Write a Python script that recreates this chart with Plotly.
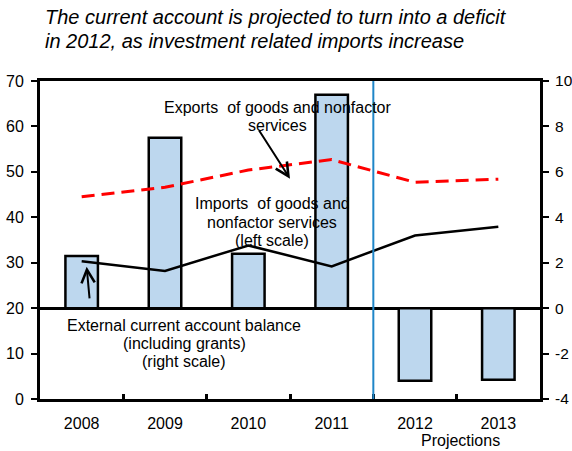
import plotly.graph_objects as go

# Data
years = ["2008", "2009", "2010", "2011", "2012", "2013"]
current_account = [2.3, 7.5, 2.4, 9.4, -3.2, -3.15]   # right scale, % of GDP
exports = [44.5, 46.6, 50.4, 52.7, 47.7, 48.4]        # left scale
imports = [30.3, 28.2, 33.8, 29.2, 36.0, 37.9]        # left scale
right_ticks = [-4, -2, 0, 2, 4, 6, 8, 10]
right_ticktext = ["-4", "-2", "0", "2", "4", "6", "8", "10"]

FONT = "Arial, Liberation Sans, sans-serif"

# Plot-area geometry (pixels) used to place free text in paper coordinates
W_FIG, H_FIG = 572, 451
M_L, M_R, M_T, M_B = 40, 32, 81, 52
PW = W_FIG - M_L - M_R
PH = H_FIG - M_T - M_B


def px(x):
    return (x - M_L) / PW


def py(y):
    return 1 - (y - M_T) / PH


fig = go.Figure()

# Current account balance bars (right scale)
fig.add_trace(go.Bar(
    x=years, y=current_account, yaxis="y",
    marker=dict(color="#BDD7EE", line=dict(color="black", width=2.5)),
    width=0.39, showlegend=False,
))

# Exports / imports lines (left scale), drawn above the bars
fig.add_trace(go.Scatter(
    x=years, y=exports, yaxis="y2", mode="lines",
    line=dict(color="#FF0000", width=3, dash="13px,7px"),
    showlegend=False,
))
fig.add_trace(go.Scatter(
    x=years, y=imports, yaxis="y2", mode="lines",
    line=dict(color="black", width=2.5),
    showlegend=False,
))

tick_font = dict(family=FONT, size=16, color="black")

fig.update_layout(
    width=W_FIG, height=H_FIG,
    margin=dict(l=M_L, r=M_R, t=M_T, b=M_B, autoexpand=False),
    paper_bgcolor="white", plot_bgcolor="white",
    font=dict(family=FONT, size=16, color="black"),
    xaxis=dict(
        type="category", range=[-0.5, 5.5], automargin=False,
        showline=True, linecolor="black", linewidth=3, mirror=True,
        ticks="inside", tickson="boundaries", ticklen=5, tickwidth=2.5,
        tickcolor="black", showgrid=False, tickfont=tick_font,
        zeroline=False, ticklabelstandoff=8,
    ),
    yaxis=dict(
        side="right", range=[-4, 10], automargin=False,
        tickmode="array", tickvals=right_ticks, ticktext=right_ticktext,
        showline=True, linecolor="black", linewidth=3,
        ticks="outside", ticklen=6, tickwidth=1.5, tickcolor="black",
        showgrid=False, zeroline=True, zerolinecolor="black",
        zerolinewidth=3, tickfont=dict(family=FONT, size=15.5, color="black"),
        ticklabelstandoff=3,
    ),
    yaxis2=dict(
        side="left", overlaying="y", range=[0, 70], dtick=10,
        automargin=False,
        showline=True, linecolor="black", linewidth=3,
        ticks="outside", ticklen=6, tickwidth=1.5, tickcolor="black",
        showgrid=False, zeroline=False, tickfont=tick_font,
        ticklabelstandoff=4,
    ),
    bargap=0.61,
)

# Projection divider between 2011 and 2012
fig.add_shape(type="line", xref="x", yref="paper", x0=3.5, x1=3.5, y0=0, y1=1,
              line=dict(color="#1F86C8", width=2), layer="above")

ann = []


def text(t, x, y, size=16, italic=False, anchor="center"):
    ann.append(dict(
        text=t, xref="paper", yref="paper", x=px(x), y=py(y),
        xanchor=anchor, yanchor="middle", showarrow=False,
        font=dict(family=FONT, size=size, color="black",
                  style="italic" if italic else "normal"),
    ))


# Heading
text("The current account is projected to turn into a deficit", 43, 17, size=20, italic=True, anchor="left")
text("in 2012, as investment related imports increase", 43, 41, size=20, italic=True, anchor="left")

# Series labels
text("Exports\u00a0 of goods and nonfactor", 277, 107)
text("services", 277, 125)
text("Imports\u00a0 of goods and", 272, 203)
text("nonfactor services", 272, 222)
text("(left scale)", 272, 240)
text("External current account balance", 184, 325)
text("(including grants)", 184, 343)
text("(right scale)", 184, 361)
text("Projections", 460, 440)

# Pointer arrows (head position in data units, tail offset in pixels)
ann.append(dict(x=2.5, y=48.5, xref="x", yref="y2", ax=-32, ay=-50,
                showarrow=True, arrowhead=5, arrowsize=1.3, arrowwidth=2,
                arrowcolor="black", text=""))
ann.append(dict(x=0.06, y=29.1, xref="x", yref="y2", ax=3, ay=33,
                showarrow=True, arrowhead=5, arrowsize=1.3, arrowwidth=2,
                arrowcolor="black", text=""))

fig.update_layout(annotations=ann)

fig.write_html("out.html")
